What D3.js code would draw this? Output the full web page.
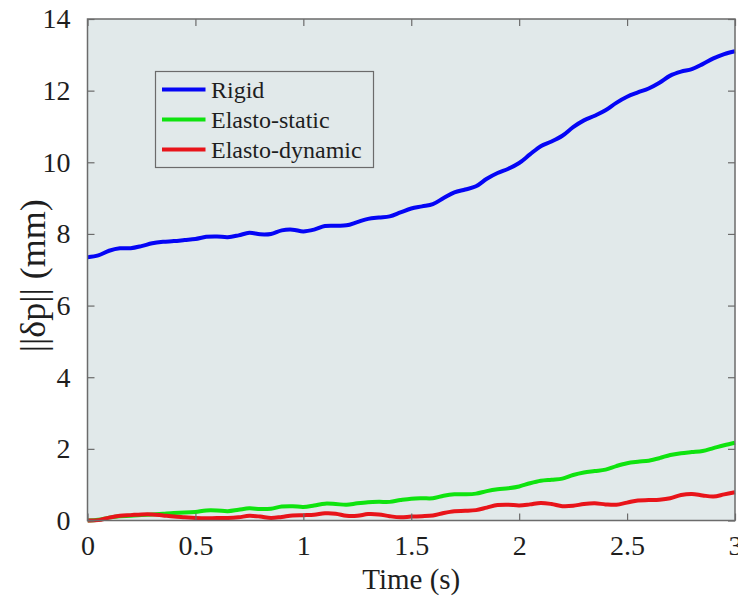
<!DOCTYPE html>
<html>
<head>
<meta charset="utf-8">
<script src="https://cdn.jsdelivr.net/npm/d3@7"></script>
<style>
  html, body { margin: 0; padding: 0; background: #fff; }
  svg { display: block; font-family: "Liberation Serif", "Times New Roman", serif; }
</style>
</head>
<body>
<svg id="chart" width="738" height="601"></svg>
<script>
// Time samples (s)
const time = d3.range(0, 61).map(i => +(i * 0.05).toFixed(2));

// Position error norm (mm) for each model
const rigid = [
  7.35, 7.40, 7.53, 7.60, 7.60, 7.66, 7.74, 7.78, 7.80, 7.83,
  7.86, 7.92, 7.93, 7.91, 7.96, 8.03, 7.99, 8.00, 8.10, 8.12,
  8.07, 8.12, 8.22, 8.23, 8.24, 8.33, 8.42, 8.46, 8.49, 8.60,
  8.71, 8.77, 8.83, 9.00, 9.16, 9.24, 9.33, 9.54, 9.70, 9.82,
  9.98, 10.22, 10.45, 10.58, 10.74, 10.98, 11.17, 11.30, 11.45, 11.66,
  11.83, 11.95, 12.06, 12.22, 12.42, 12.53, 12.60, 12.74, 12.90, 13.02,
  13.10
];
const elastoStatic = [
  0.00, 0.02, 0.08, 0.12, 0.13, 0.15, 0.17, 0.19, 0.21, 0.22,
  0.24, 0.28, 0.28, 0.26, 0.30, 0.34, 0.32, 0.33, 0.39, 0.40,
  0.38, 0.42, 0.47, 0.46, 0.44, 0.48, 0.51, 0.52, 0.52, 0.57,
  0.61, 0.62, 0.62, 0.69, 0.73, 0.73, 0.75, 0.82, 0.87, 0.90,
  0.95, 1.04, 1.11, 1.14, 1.17, 1.27, 1.34, 1.38, 1.42, 1.52,
  1.60, 1.64, 1.67, 1.74, 1.83, 1.88, 1.91, 1.94, 2.02, 2.10,
  2.17
];
const elastoDynamic = [
  0.00, 0.01, 0.08, 0.13, 0.15, 0.17, 0.17, 0.14, 0.11, 0.09,
  0.07, 0.06, 0.07, 0.07, 0.09, 0.13, 0.11, 0.07, 0.10, 0.14,
  0.15, 0.16, 0.20, 0.19, 0.13, 0.13, 0.18, 0.17, 0.12, 0.09,
  0.11, 0.12, 0.14, 0.21, 0.26, 0.27, 0.29, 0.36, 0.43, 0.44,
  0.42, 0.45, 0.49, 0.46, 0.40, 0.41, 0.46, 0.48, 0.45, 0.44,
  0.50, 0.56, 0.57, 0.58, 0.62, 0.71, 0.74, 0.70, 0.67, 0.73,
  0.79
];

const seriesNames = ["Rigid", "Elasto-static", "Elasto-dynamic"];
const seriesColors = ["#0505f5", "#0fe30f", "#e8141a"];
const xTicks = [0, 0.5, 1, 1.5, 2, 2.5, 3];
const xTickLabels = ["0", "0.5", "1", "1.5", "2", "2.5", "3"];
const yTicks = [0, 2, 4, 6, 8, 10, 12, 14];

const svg = d3.select("#chart");
const margin = { left: 87.5, right: 3, top: 19, bottom: 80.5 };
const W = 738, H = 601;
const x = d3.scaleLinear().domain([0, 3]).range([margin.left, W - margin.right]);
const y = d3.scaleLinear().domain([0, 14]).range([H - margin.bottom, margin.top]);

const axisColor = "#6b6b6b";
const textColor = "#1e1e1e";

// Plot background
svg.append("rect")
  .attr("x", x(0)).attr("y", y(14))
  .attr("width", x(3) - x(0)).attr("height", y(0) - y(14))
  .attr("fill", "#e1e9ea");

svg.append("clipPath").attr("id", "plotclip")
  .append("rect")
  .attr("x", x(0)).attr("y", y(14) - 4)
  .attr("width", x(3) - x(0) + 4).attr("height", y(0) - y(14) + 8);

// Series lines
const line = d3.line()
  .x((d, i) => x(time[i]))
  .y(d => y(d))
  .curve(d3.curveCatmullRom.alpha(0.5));

const series = [rigid, elastoStatic, elastoDynamic];
const g = svg.append("g").attr("clip-path", "url(#plotclip)");
series.forEach((vals, k) => {
  g.append("path")
    .datum(vals)
    .attr("d", line)
    .attr("fill", "none")
    .attr("stroke", seriesColors[k])
    .attr("stroke-width", 4)
    .attr("stroke-linejoin", "round")
    .attr("stroke-linecap", "butt");
});

// Axes with inward ticks on all four sides
const tickLen = 7;
function styleAxis(sel) {
  sel.select(".domain").remove();
  sel.selectAll(".tick line").attr("stroke", axisColor).attr("stroke-width", 1.2);
  sel.selectAll(".tick text")
    .attr("fill", textColor)
    .style("font-size", "28px")
    .style("font-family", '"Liberation Serif", "Times New Roman", serif');
}

svg.append("g")
  .attr("transform", `translate(0,${y(0)})`)
  .call(d3.axisBottom(x).tickValues(xTicks)
    .tickFormat((d, i) => xTickLabels[i])
    .tickSizeInner(-tickLen).tickSizeOuter(0).tickPadding(15))
  .call(styleAxis);

svg.append("g")
  .attr("transform", `translate(0,${y(14)})`)
  .call(d3.axisTop(x).tickValues(xTicks).tickFormat("")
    .tickSizeInner(-tickLen).tickSizeOuter(0))
  .call(styleAxis);

svg.append("g")
  .attr("transform", `translate(${x(0)},0)`)
  .call(d3.axisLeft(y).tickValues(yTicks).tickFormat(d3.format("d"))
    .tickSizeInner(-tickLen).tickSizeOuter(0).tickPadding(17))
  .call(styleAxis);

svg.append("g")
  .attr("transform", `translate(${x(3)},0)`)
  .call(d3.axisRight(y).tickValues(yTicks).tickFormat("")
    .tickSizeInner(-tickLen).tickSizeOuter(0))
  .call(styleAxis);

// Axis box
svg.append("rect")
  .attr("x", x(0)).attr("y", y(14))
  .attr("width", x(3) - x(0)).attr("height", y(0) - y(14))
  .attr("fill", "none")
  .attr("stroke", axisColor)
  .attr("stroke-width", 1.5);

// Axis titles
svg.append("text")
  .attr("x", (x(0) + x(3)) / 2)
  .attr("y", 589)
  .attr("text-anchor", "middle")
  .attr("fill", textColor)
  .style("font-size", "29px")
  .text("Time (s)");

svg.append("text")
  .attr("transform", `translate(45,${(y(0) + y(14)) / 2 + 6}) rotate(-90)`)
  .attr("text-anchor", "middle")
  .attr("fill", textColor)
  .style("font-size", "36px")
  .text("||δp|| (mm)");

// Legend
const legend = svg.append("g");
legend.append("rect")
  .attr("x", 155.5).attr("y", 71.5)
  .attr("width", 218).attr("height", 96)
  .attr("fill", "#e1e9ea")
  .attr("stroke", axisColor)
  .attr("stroke-width", 1.2);
seriesNames.forEach((name, k) => {
  const cy = 89.5 + k * 30;
  legend.append("line")
    .attr("x1", 162).attr("x2", 205.5)
    .attr("y1", cy).attr("y2", cy)
    .attr("stroke", seriesColors[k])
    .attr("stroke-width", 4);
  legend.append("text")
    .attr("x", 211).attr("y", cy + 8)
    .attr("fill", textColor)
    .style("font-size", "24px")
    .text(name);
});
</script>
</body>
</html>
